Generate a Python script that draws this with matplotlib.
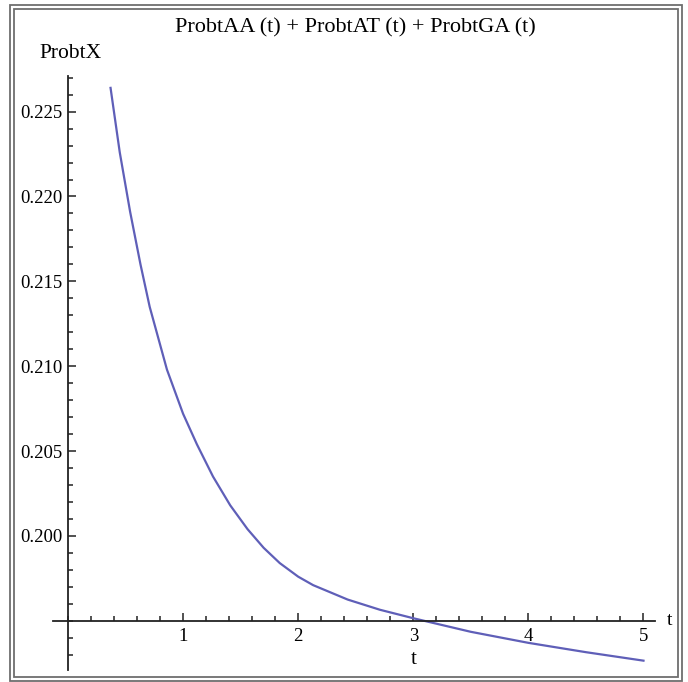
"""ProbtAA + ProbtAT + ProbtGA, mathematica-style axes"""

import numpy as np
import matplotlib.pyplot as plt
from matplotlib.patches import Rectangle
from matplotlib.ticker import MultipleLocator, FixedLocator

# values
t = [0.37, 0.45, 0.54, 0.63, 0.71, 0.86, 1.0, 1.12, 1.26, 1.41, 1.56,
     1.70, 1.84, 2.0, 2.13, 2.43, 2.71, 3.0, 3.5, 4.0, 4.5, 5.0]
probt = [0.2264, 0.2226, 0.2191, 0.2160, 0.2135, 0.2098, 0.2072, 0.2054,
         0.2035, 0.2018, 0.2004, 0.1993, 0.1984, 0.1976, 0.1971, 0.19625,
         0.19565, 0.19515, 0.19435, 0.1937, 0.19315, 0.19265]
xticks = [1, 2, 3, 4, 5]
yticks = [0.200, 0.205, 0.210, 0.215, 0.220, 0.225]
ytick_labels = ['0.200', '0.205', '0.210', '0.215', '0.220', '0.225']

plt.rcParams['font.family'] = ['Liberation Serif', 'DejaVu Serif']

fig = plt.figure(figsize=(6.88, 6.82), dpi=100)

# double frame round the whole picture
for x0, y0, x1, y1 in [(10, 5, 682, 681), (14, 9, 678, 677)]:
    fig.patches.append(Rectangle((x0 / 688, 1 - y1 / 682), (x1 - x0) / 688,
                                 (y1 - y0) / 682, transform=fig.transFigure,
                                 fill=False, ec='#6e6e6e', lw=1.3))

ax = fig.add_axes([53 / 688, 12 / 682, 602 / 688, 594 / 682])
ax.set_xlim(-0.13, 5.1)
ax.set_ylim(0.1921, 0.2271)

ax.plot(t, probt, c='#5f5fb8', lw=1.6)

for side in ['top', 'right']:
    ax.spines[side].set_visible(False)
ax.spines['left'].set_position(('data', 0))
ax.spines['bottom'].set_position(('data', 0.195))
for side in ['left', 'bottom']:
    ax.spines[side].set_linewidth(1.3)
    ax.spines[side].set_color('#222222')

ax.xaxis.set_major_locator(FixedLocator(xticks))
ax.xaxis.set_minor_locator(MultipleLocator(0.2))
ax.yaxis.set_major_locator(FixedLocator(yticks))
ax.yaxis.set_minor_locator(MultipleLocator(0.001))
ax.set_yticklabels(ytick_labels)
ax.tick_params(which='both', direction='in', color='#222222', width=1.1,
               labelsize=13.5)
ax.tick_params(which='major', length=6)
ax.tick_params(which='minor', length=3.5)
ax.tick_params(axis='x', pad=5)
ax.tick_params(axis='y', pad=4)

ax.text(5.2, 0.195, 't', fontsize=14, ha='left', va='center')
ax.text(3.0, 0.1927, 't', fontsize=15, ha='center', va='center')
fig.text(71 / 688, 1 - 53 / 682, 'ProbtX', fontsize=15.5, ha='center',
         va='center')
fig.text(355 / 688, 1 - 28 / 682,
         'ProbtAA (t) + ProbtAT (t) + ProbtGA (t)', fontsize=16,
         ha='center', va='center')

fig.savefig('out.png', dpi=100)
